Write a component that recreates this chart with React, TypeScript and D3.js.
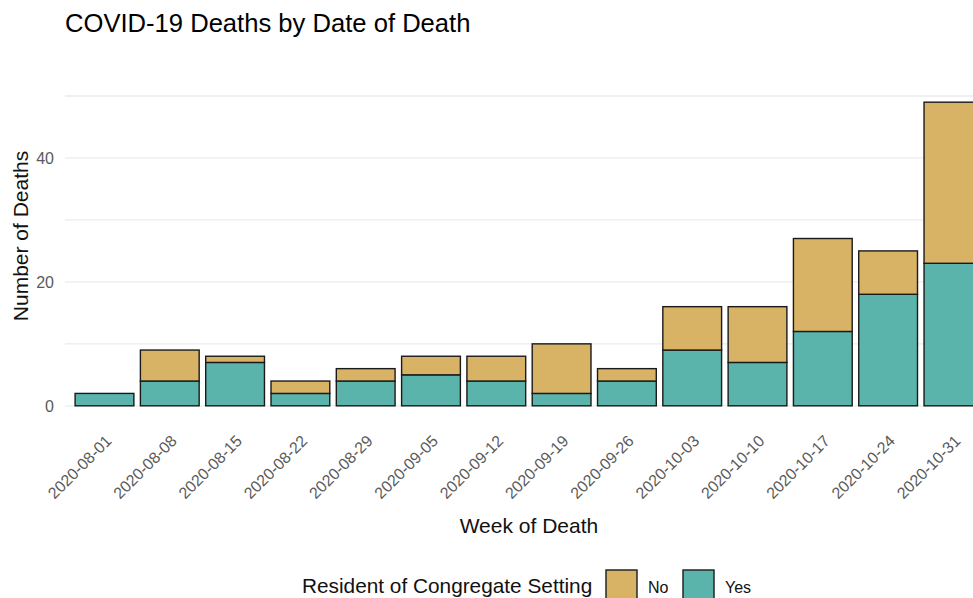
import React from "react";
import * as d3 from "d3";

const weeks = [
  "2020-08-01", "2020-08-08", "2020-08-15", "2020-08-22", "2020-08-29",
  "2020-09-05", "2020-09-12", "2020-09-19", "2020-09-26", "2020-10-03",
  "2020-10-10", "2020-10-17", "2020-10-24", "2020-10-31",
];
const yesValues = [2, 4, 7, 2, 4, 5, 4, 2, 4, 9, 7, 12, 18, 23];
const noValues = [0, 5, 1, 2, 2, 3, 4, 8, 2, 7, 9, 15, 7, 26];
const yMajorTicks = [0, 20, 40];
const yMinorTicks = [10, 30, 50];
const seriesNames = ["No", "Yes"];
const seriesColors = ["#D8B365", "#5AB4AC"];

const W = 973;
const H = 598;
const FONT = "'Liberation Sans', Arial, sans-serif";

export default function App() {
  const x = d3
    .scaleBand<string>()
    .domain(weeks)
    .range([65.3, 992.6])
    .paddingInner(0.1)
    .paddingOuter(0.15);
  const totals = yesValues.map((v, i) => v + noValues[i]);
  const yMax = d3.max(totals)!;
  const y = d3
    .scaleLinear()
    .domain([-yMax * 0.05, yMax * 1.05])
    .range([421, 87]);

  const rows = weeks.map((w, i) => ({ week: w, Yes: yesValues[i], No: noValues[i] }));
  const stack = d3.stack<any>().keys(["Yes", "No"])(rows);
  const colorOf = (k: string) => seriesColors[seriesNames.indexOf(k)];

  return (
    <svg
      width={W}
      height={H}
      style={{ position: "absolute", left: 0, top: 0, display: "block", background: "#fff" }}
      fontFamily={FONT}
    >
      {/* title */}
      <text x={65} y={32} fontSize={25.6} fill="#000">
        COVID-19 Deaths by Date of Death
      </text>

      {/* grid */}
      {[...yMinorTicks, ...yMajorTicks].map((t) => (
        <line
          key={"g" + t}
          x1={65}
          x2={W}
          y1={y(t)}
          y2={y(t)}
          stroke="#ebebeb"
          strokeWidth={1.3}
        />
      ))}

      {/* y tick labels */}
      {yMajorTicks.map((t) => (
        <text
          key={"yt" + t}
          x={54}
          y={y(t)}
          dy="0.36em"
          textAnchor="end"
          fontSize={16}
          fill="#5a5a5a"
        >
          {t}
        </text>
      ))}

      {/* y title */}
      <text
        transform={`translate(28, 236) rotate(-90)`}
        textAnchor="middle"
        fontSize={21}
        fill="#111"
      >
        Number of Deaths
      </text>

      {/* bars */}
      {stack.map((layer) =>
        layer.map((d, i) => {
          const h = y(d[0]) - y(d[1]);
          if (h <= 0) return null;
          return (
            <rect
              key={layer.key + i}
              x={x(weeks[i])!}
              y={y(d[1])}
              width={x.bandwidth()}
              height={h}
              fill={colorOf(layer.key)}
              stroke="#1a1a1a"
              strokeWidth={1.4}
            />
          );
        })
      )}

      {/* x tick labels */}
      {weeks.map((w) => (
        <text
          key={"xt" + w}
          transform={`translate(${x(w)! + x.bandwidth() / 2 + 8}, 442) rotate(-45)`}
          textAnchor="end"
          fontSize={16}
          fill="#5a5a5a"
        >
          {w}
        </text>
      ))}

      {/* x title */}
      <text x={(65.3 + 992.6) / 2} y={533} textAnchor="middle" fontSize={21} fill="#111">
        Week of Death
      </text>

      {/* legend */}
      <text x={302} y={593} fontSize={20.8} fill="#111">
        Resident of Congregate Setting
      </text>
      {seriesNames.map((s, i) => {
        const bx = i === 0 ? 606 : 683;
        return (
          <g key={"lg" + s}>
            <rect x={bx} y={570} width={31} height={34} fill={seriesColors[i]} stroke="#1a1a1a" strokeWidth={1.4} />
            <text x={bx + 42} y={593} fontSize={16} fill="#111">
              {s}
            </text>
          </g>
        );
      })}
    </svg>
  );
}
